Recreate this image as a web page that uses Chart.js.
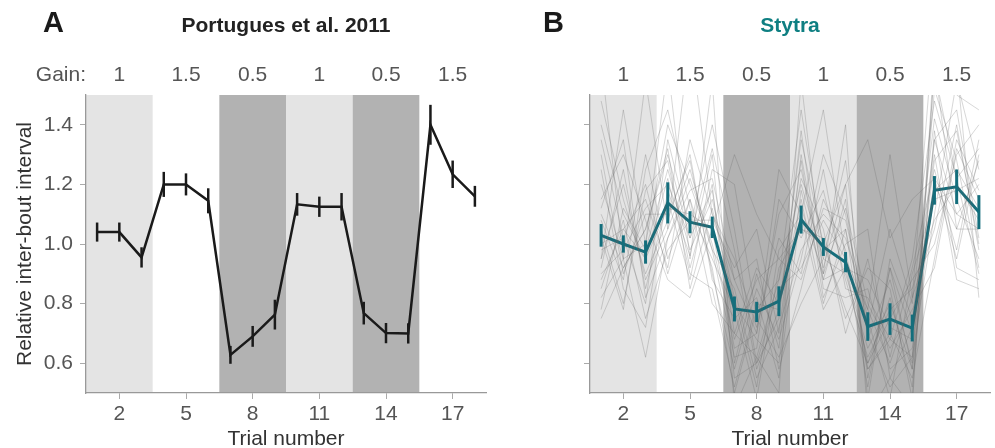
<!DOCTYPE html>
<html>
<head>
<meta charset="utf-8">
<script src="https://cdn.jsdelivr.net/npm/chart.js@4.4.1/dist/chart.umd.min.js"></script>
<style>
  html, body { margin: 0; padding: 0; background: #fff; overflow: hidden; }
  .panel { position: absolute; top: 0; }
  #panelA { left: 0; }
  #panelB { left: 497px; }
</style>
</head>
<body>
<div class="panel" id="panelA"><canvas id="chartA" width="497" height="452"></canvas></div>
<div class="panel" id="panelB"><canvas id="chartB" width="498" height="452"></canvas></div>
<script>
// trials and gain blocks (3 trials per block)
const trials = [1, 2, 3, 4, 5, 6, 7, 8, 9, 10, 11, 12, 13, 14, 15, 16, 17, 18];
const blockCenters = [2, 5, 8, 11, 14, 17];
const blockGains = [1, 1.5, 0.5, 1, 0.5, 1.5];
const yTicks = [0.6, 0.8, 1.0, 1.2, 1.4];

// Portugues et al. 2011 - mean and sem
const portuguesMean = [1.04, 1.04, 0.955, 1.20, 1.20, 1.145, 0.628, 0.69, 0.763, 1.133, 1.125, 1.125, 0.768, 0.701, 0.70, 1.40, 1.234, 1.16];
const portuguesErr = [0.032, 0.032, 0.034, 0.042, 0.037, 0.042, 0.03, 0.035, 0.05, 0.038, 0.034, 0.046, 0.038, 0.034, 0.034, 0.067, 0.046, 0.035];

// Stytra - mean and sem
const stytraMean = [1.029, 1.00, 0.973, 1.138, 1.073, 1.056, 0.782, 0.772, 0.808, 1.082, 0.99, 0.939, 0.723, 0.748, 0.718, 1.18, 1.192, 1.107];
const stytraErr = [0.038, 0.029, 0.039, 0.069, 0.037, 0.036, 0.042, 0.034, 0.05, 0.047, 0.03, 0.034, 0.048, 0.053, 0.045, 0.048, 0.058, 0.057];

// Stytra - individual fish
const stytraFish = [
  [1.10, 0.92, 1.05, 1.30, 1.02, 1.18, 0.70, 0.62, 0.88, 1.20, 0.95, 0.90, 0.65, 0.80, 0.58, 1.35, 1.10, 1.20],
  [0.95, 1.20, 0.88, 1.05, 1.25, 0.98, 0.85, 0.55, 0.72, 0.98, 1.10, 1.02, 0.78, 0.60, 0.82, 1.05, 1.40, 0.98],
  [1.25, 0.85, 0.72, 1.18, 0.96, 1.30, 0.60, 0.90, 0.65, 1.30, 0.88, 1.15, 0.55, 0.92, 0.70, 1.22, 0.95, 1.30],
  [0.88, 1.05, 1.15, 0.92, 1.35, 1.10, 0.95, 0.72, 1.02, 0.90, 1.25, 0.85, 0.82, 0.68, 0.95, 1.48, 1.22, 0.90],
  [1.40, 1.10, 0.95, 1.22, 0.90, 0.85, 0.52, 0.80, 0.78, 1.15, 0.80, 1.05, 0.70, 0.52, 0.62, 1.10, 1.55, 1.25],
  [1.02, 0.78, 1.25, 1.45, 1.12, 0.95, 0.78, 0.48, 0.92, 1.05, 1.02, 0.75, 0.92, 0.85, 0.48, 1.60, 1.05, 1.05],
  [0.82, 0.95, 0.62, 1.02, 1.18, 1.22, 0.88, 0.95, 0.58, 0.85, 1.15, 0.98, 0.60, 0.75, 0.88, 1.00, 1.30, 1.40],
  [1.15, 1.30, 1.08, 0.88, 0.82, 1.05, 0.65, 0.70, 1.10, 1.25, 0.92, 1.20, 0.48, 0.95, 0.75, 1.30, 0.88, 0.85],
  [0.98, 1.02, 0.80, 1.35, 1.05, 1.40, 1.05, 0.60, 0.75, 1.38, 0.85, 0.82, 0.85, 0.58, 0.65, 1.18, 1.25, 1.12],
  [1.30, 0.90, 1.10, 1.10, 1.28, 0.90, 0.58, 0.85, 0.68, 0.95, 1.30, 1.10, 0.72, 1.05, 0.80, 1.42, 1.15, 0.95],
  [0.78, 1.12, 0.98, 1.25, 0.98, 1.15, 0.82, 0.52, 0.98, 1.10, 0.78, 0.92, 0.58, 0.70, 0.55, 0.95, 1.35, 1.18],
  [1.08, 0.88, 1.30, 0.95, 1.15, 0.80, 0.70, 0.92, 0.80, 1.22, 1.05, 0.70, 0.95, 0.62, 0.92, 1.25, 0.98, 1.35],
  [0.92, 1.25, 0.85, 1.15, 0.88, 1.25, 1.20, 0.75, 0.62, 0.80, 0.95, 1.28, 0.68, 0.88, 0.60, 1.52, 1.28, 0.92],
  [1.20, 0.95, 1.00, 1.40, 1.20, 0.98, 0.62, 0.65, 1.15, 1.02, 1.18, 0.88, 0.62, 0.78, 0.85, 1.08, 1.20, 1.08],
  [0.85, 1.08, 0.75, 0.98, 1.08, 1.08, 0.92, 1.05, 0.70, 1.28, 0.82, 1.00, 1.05, 0.55, 0.72, 1.35, 1.45, 1.02],
  [1.05, 0.80, 1.18, 1.28, 0.92, 1.20, 0.55, 0.60, 0.85, 0.92, 1.08, 0.95, 0.52, 0.92, 0.58, 1.20, 1.05, 1.28],
  [1.48, 1.15, 0.90, 1.08, 1.30, 0.88, 0.75, 0.82, 0.55, 1.12, 0.90, 1.12, 0.80, 0.65, 0.78, 0.92, 1.32, 1.15],
  [0.90, 0.98, 1.12, 1.20, 1.02, 1.32, 0.98, 0.58, 0.78, 1.35, 1.00, 0.78, 0.60, 0.82, 0.52, 1.38, 0.92, 0.88],
  [1.12, 1.35, 0.82, 1.02, 1.22, 1.00, 0.68, 0.88, 0.95, 0.88, 1.12, 1.08, 0.75, 0.48, 0.90, 1.15, 1.18, 1.22],
  [0.75, 0.92, 1.05, 1.32, 0.85, 1.12, 0.80, 0.68, 0.60, 1.18, 0.88, 0.92, 0.88, 0.72, 0.68, 1.28, 1.38, 1.00],
  [1.00, 1.05, 0.95, 1.12, 1.10, 1.05, 1.30, 1.10, 0.95, 1.05, 1.00, 1.20, 1.35, 1.02, 1.15, 1.22, 1.10, 1.05],
  [1.35, 1.02, 1.20, 0.90, 1.15, 0.92, 0.50, 0.78, 0.88, 1.45, 0.98, 1.05, 0.58, 0.68, 0.62, 1.58, 1.22, 1.32],
  [1.62, 0.95, 1.55, 1.05, 1.70, 1.10, 0.88, 0.70, 1.25, 1.10, 1.45, 0.95, 0.78, 1.30, 0.82, 1.75, 1.50, 1.45],
  [0.95, 1.45, 1.00, 1.60, 0.95, 1.55, 0.45, 0.62, 0.50, 1.55, 0.90, 1.40, 0.42, 0.55, 0.45, 1.65, 1.60, 0.82]
];

const gainShade = { 1: '#e4e4e4', 0.5: '#b2b2b2', 1.5: null };
const tealColor = '#146e7c';
const fontFamily = '"Liberation Sans", Arial, Helvetica, sans-serif';

Chart.defaults.font.family = fontFamily;

function toPoints(values) {
  return values.map((v, i) => ({ x: trials[i], y: v }));
}

// gain blocks shaded behind everything
const blockShading = {
  id: 'blockShading',
  beforeDraw(chart) {
    const { ctx, chartArea, scales: { x } } = chart;
    ctx.save();
    blockCenters.forEach((c, i) => {
      const fill = gainShade[blockGains[i]];
      if (!fill) return;
      const x0 = x.getPixelForValue(c - 1.5);
      const x1 = x.getPixelForValue(c + 1.5);
      ctx.fillStyle = fill;
      ctx.fillRect(x0, chartArea.top, x1 - x0, chartArea.bottom - chartArea.top);
    });
    ctx.restore();
  }
};

// vertical sem bars for datasets that carry an `errors` array
const errorBars = {
  id: 'errorBars',
  afterDatasetsDraw(chart) {
    const { ctx, scales: { x, y } } = chart;
    ctx.save();
    chart.data.datasets.forEach(ds => {
      if (!ds.errors) return;
      ctx.strokeStyle = ds.borderColor;
      ctx.lineWidth = ds.errorWidth || 2.5;
      ds.data.forEach((p, i) => {
        const px = x.getPixelForValue(p.x);
        ctx.beginPath();
        ctx.moveTo(px, y.getPixelForValue(p.y - ds.errors[i]));
        ctx.lineTo(px, y.getPixelForValue(p.y + ds.errors[i]));
        ctx.stroke();
      });
    });
    ctx.restore();
  }
};

// panel letter, title and gain row above the plot
const panelHeader = {
  id: 'panelHeader',
  afterDraw(chart, args, opts) {
    const { ctx, scales: { x } } = chart;
    ctx.save();
    ctx.textBaseline = 'alphabetic';
    ctx.fillStyle = '#1a1a1a';
    ctx.font = 'bold 29px ' + fontFamily;
    ctx.textAlign = 'left';
    ctx.fillText(opts.letter, opts.letterX, 32);

    ctx.fillStyle = opts.titleColor;
    ctx.font = 'bold 21px ' + fontFamily;
    ctx.textAlign = 'center';
    ctx.fillText(opts.title, opts.titleX, 32);

    ctx.fillStyle = '#555';
    ctx.font = '21px ' + fontFamily;
    blockCenters.forEach((c, i) => {
      ctx.fillText(String(blockGains[i]), x.getPixelForValue(c), 81);
    });
    if (opts.gainLabel) {
      ctx.textAlign = 'right';
      ctx.fillText(opts.gainLabel, chart.chartArea.left, 81);
    }
    ctx.restore();
  }
};

function makeScales(showYLabels, yWidth) {
  const gridOpts = { drawOnChartArea: false, drawTicks: true, tickLength: 6, color: '#aaaaaa', lineWidth: 1 };
  const borderOpts = { display: true, color: '#999999', width: 1.3 };
  return {
    x: {
      type: 'linear', min: 0.5, max: 18.5,
      afterBuildTicks: s => { s.ticks = blockCenters.map(v => ({ value: v })); },
      afterFit: s => { s.height = 59; },
      grid: gridOpts, border: borderOpts,
      ticks: { color: '#555', font: { size: 21 }, padding: 3, maxRotation: 0, autoSkip: false },
      title: { display: true, text: 'Trial number', color: '#333', font: { size: 21 }, padding: 0 }
    },
    y: {
      type: 'linear', min: 0.5, max: 1.5,
      afterBuildTicks: s => { s.ticks = yTicks.map(v => ({ value: v })); },
      afterFit: s => { s.width = yWidth; },
      grid: gridOpts, border: borderOpts,
      ticks: { display: showYLabels, color: '#555', font: { size: 21 }, padding: 7, callback: v => v.toFixed(1) },
      title: { display: showYLabels, text: 'Relative inter-bout interval', color: '#333', font: { size: 21 }, padding: { top: 0, bottom: 0 } }
    }
  };
}

const baseOptions = {
  responsive: false,
  animation: false,
  events: [],
  plugins: { legend: { display: false }, tooltip: { enabled: false } }
};

// panel A
new Chart(document.getElementById('chartA'), {
  type: 'line',
  data: {
    datasets: [{
      data: toPoints(portuguesMean),
      errors: portuguesErr,
      borderColor: '#1a1a1a',
      borderWidth: 2.5,
      errorWidth: 2.5,
      pointRadius: 0,
      tension: 0
    }]
  },
  options: {
    ...baseOptions,
    layout: { padding: { left: 13, right: 11, top: 95, bottom: 0 } },
    scales: makeScales(true, 73),
    plugins: {
      ...baseOptions.plugins,
      panelHeader: { letter: 'A', letterX: 43, title: 'Portugues et al. 2011', titleX: 286, titleColor: '#222', gainLabel: 'Gain:' }
    }
  },
  plugins: [blockShading, errorBars, panelHeader]
});

// panel B: thin grey traces per fish, mean on top
const fishSets = stytraFish.map(f => ({
  data: toPoints(f),
  borderColor: 'rgba(95,95,95,0.36)',
  borderWidth: 0.7,
  pointRadius: 0,
  tension: 0,
  clip: 0
}));

new Chart(document.getElementById('chartB'), {
  type: 'line',
  data: {
    datasets: [...fishSets, {
      data: toPoints(stytraMean),
      errors: stytraErr,
      borderColor: tealColor,
      borderWidth: 3,
      errorWidth: 3,
      pointRadius: 0,
      tension: 0
    }]
  },
  options: {
    ...baseOptions,
    layout: { padding: { left: 0, right: 5, top: 95, bottom: 0 } },
    scales: makeScales(false, 93),
    plugins: {
      ...baseOptions.plugins,
      panelHeader: { letter: 'B', letterX: 46, title: 'Stytra', titleX: 293, titleColor: '#0e7f82' }
    }
  },
  plugins: [blockShading, errorBars, panelHeader]
});
</script>
</body>
</html>
